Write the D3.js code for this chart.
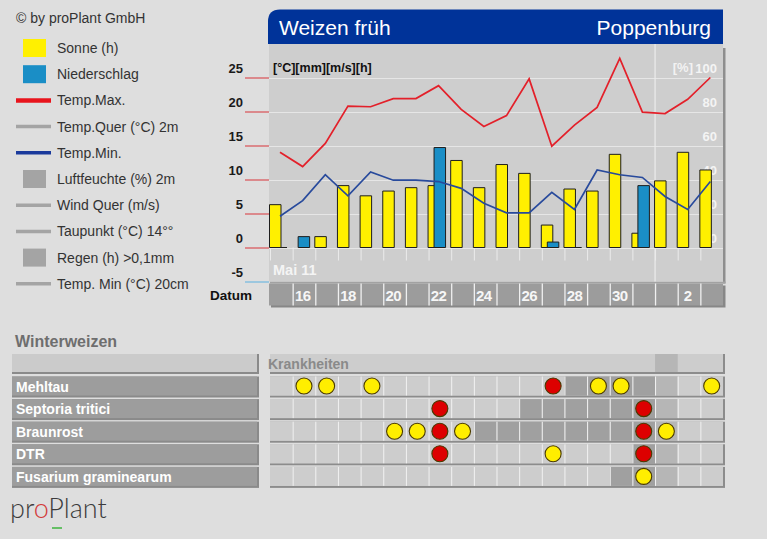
<!DOCTYPE html>
<html><head><meta charset="utf-8">
<script src="https://cdn.jsdelivr.net/npm/d3@7"></script>
<style>
html,body{margin:0;padding:0;background:#dedede;}
svg{display:block;font-family:"Liberation Sans",Arial,sans-serif;}
</style></head><body>
<svg id="c" width="767" height="539"></svg>
<script>
// ---------- data ----------
const days = [15,16,17,18,19,20,21,22,23,24,25,26,27,28,29,30,31,1,2,3];
const monthLabel = "Mai 11";
const sunHours  = [6.3,null,1.6,9.1,7.6,8.3,8.8,9.1,12.8,8.8,12.2,10.9,3.3,8.6,8.3,13.7,2.1,9.8,14.0,11.4];
const precipMm  = [0,1.6,null,null,null,null,null,14.7,null,null,null,null,0.8,0,null,null,9.1,null,null,null];
const tempMax   = [14.0,11.9,15.3,20.8,20.7,21.9,21.9,23.8,20.3,17.8,19.4,24.8,14.9,18.0,20.6,27.8,19.9,19.7,21.8,25.0];
const tempMin   = [4.6,6.9,10.7,7.6,11.1,9.9,9.9,9.7,8.7,6.5,5.1,5.1,8.1,5.6,11.4,10.7,10.3,7.5,5.6,9.7];
const yTicks    = [-5,0,5,10,15,20,25];
const pctTicks  = [0,20,40,60,80,100];
const todayIndex = 17;

const legendLabels = ["Sonne (h)","Niederschlag","Temp.Max.","Temp.Quer (°C) 2m","Temp.Min.","Luftfeuchte (%) 2m","Wind Quer (m/s)","Taupunkt (°C) 14°°","Regen (h) >0,1mm","Temp. Min (°C) 20cm"];
const legendKinds  = ["box","box","line","line","line","box","line","line","box","line"];
const legendColors = ["#fff000","#1a8ec6","#e8141c","#a4a4a4","#1a3a9c","#a4a4a4","#a4a4a4","#a4a4a4","#a4a4a4","#a4a4a4"];

const cropName = "Winterweizen";
const gridHeader = "Krankheiten";
const diseases = ["Mehltau","Septoria tritici","Braunrost","DTR","Fusarium graminearum"];
// 0 = normal cell, 1 = risk (dark) cell
const riskShade = [
  [0,0,0,0,0,0,0,0,0,0,0,0,0,1,1,1,1,0,0,0],
  [0,0,0,0,0,0,0,0,0,0,0,1,1,1,1,1,1,0,0,0],
  [0,0,0,0,0,0,0,0,0,1,1,1,1,1,1,1,1,0,0,0],
  [0,0,0,0,0,0,0,0,0,0,0,0,0,0,0,0,1,0,0,0],
  [0,0,0,0,0,0,0,0,0,0,0,0,0,0,0,1,1,0,0,0]
];
// 0 = none, 1 = yellow, 2 = red
const alertLevel = [
  [0,1,1,0,1,0,0,0,0,0,0,0,2,0,1,1,0,0,0,1],
  [0,0,0,0,0,0,0,2,0,0,0,0,0,0,0,0,2,0,0,0],
  [0,0,0,0,0,1,1,2,1,0,0,0,0,0,0,0,2,1,0,0],
  [0,0,0,0,0,0,0,2,0,0,0,0,1,0,0,0,2,0,0,0],
  [0,0,0,0,0,0,0,0,0,0,0,0,0,0,0,0,1,0,0,0]
];

// ---------- drawing ----------
const svg = d3.select("#c");
const FONT = '"Liberation Sans",Arial,sans-serif';

const x = d3.scaleBand().domain(d3.range(days.length)).range([270, 723]);
const bw = x.bandwidth();
const y = d3.scaleLinear().domain([-5, 30]).range([281.5, 43.5]);
const yPct = d3.scaleLinear().domain([0, 100]).range([y(0), y(25)]);

// copyright
svg.append("text").attr("x", 16).attr("y", 23).attr("font-size", 14).attr("fill", "#333")
  .text("© by proPlant GmbH");

// legend
const lg = svg.append("g");
legendLabels.forEach((lab, i) => {
  const cy = 48 + 26.2 * i;
  if (legendKinds[i] === "box") {
    lg.append("rect").attr("x", 23).attr("y", cy - 9).attr("width", 23).attr("height", 18).attr("fill", legendColors[i]);
  } else {
    lg.append("line").attr("x1", 16).attr("x2", 51).attr("y1", cy).attr("y2", cy)
      .attr("stroke", legendColors[i]).attr("stroke-width", i === 2 ? 4.5 : 3.5);
  }
  lg.append("text").attr("x", 57).attr("y", cy + 5).attr("font-size", 14).attr("fill", "#333").text(lab);
});

// title bar
svg.append("path").attr("d", "M268,44 V21.5 Q268,9.5 280,9.5 H723 V44 Z").attr("fill", "#003399");
svg.append("text").attr("x", 279).attr("y", 35).attr("font-size", 21).attr("fill", "#fff").text("Weizen früh");
svg.append("text").attr("x", 711).attr("y", 35).attr("font-size", 21).attr("fill", "#fff").attr("text-anchor", "end").text("Poppenburg");

// chart panel
svg.append("rect").attr("x", 723).attr("y", 48).attr("width", 2.5).attr("height", 235.5).attr("fill", "#8e8e8e");
svg.append("rect").attr("x", 270).attr("y", 281.5).attr("width", 455.5).attr("height", 2).attr("fill", "#a2a2a2");
svg.append("rect").attr("x", 269).attr("y", 44).attr("width", 454).attr("height", 237.5).attr("fill", "#cecece");

// horizontal gridlines
svg.append("g").selectAll("line").data(yTicks.filter(t => t >= 0)).join("line")
  .attr("x1", 269).attr("x2", 723).attr("y1", d => Math.round(y(d)) + 0.5).attr("y2", d => Math.round(y(d)) + 0.5)
  .attr("stroke", "#e6e6e6").attr("stroke-width", 1);

// today separator
svg.append("line").attr("x1", x(todayIndex)).attr("x2", x(todayIndex)).attr("y1", 44).attr("y2", 281.5)
  .attr("stroke", "#ececec").attr("stroke-width", 1.2);

// small ticks below zero
svg.append("g").selectAll("line").data(d3.range(days.length)).join("line")
  .attr("x1", i => x(i) + 0.5).attr("x2", i => x(i) + 0.5).attr("y1", y(0)).attr("y2", y(0) + 13)
  .attr("stroke", "#ebebeb").attr("stroke-width", 1);

// left axis
const ax = svg.append("g").attr("transform", "translate(269,0)")
  .call(d3.axisLeft(y).tickValues(yTicks).tickFormat(d => String(d)).tickSize(24).tickPadding(2));
ax.select(".domain").remove();
ax.selectAll(".tick line").attr("stroke", d => d < 0 ? "#5ab0e0" : "#d8353a").attr("stroke-width", 1);
ax.selectAll(".tick text").attr("font-family", FONT).attr("font-size", 13).attr("font-weight", "bold")
  .attr("fill", "#1a1a1a").attr("dy", null).attr("y", -5.5);

// right axis (percent)
const ar = svg.append("g").attr("transform", "translate(719,0)")
  .call(d3.axisLeft(yPct).tickValues(pctTicks).tickFormat(d => String(d)).tickSize(0).tickPadding(2));
ar.select(".domain").remove();
ar.selectAll(".tick text").attr("font-family", FONT).attr("font-size", 13).attr("font-weight", "bold")
  .attr("fill", "#f4f4f4").attr("dy", null).attr("y", -5.5);
svg.append("text").attr("x", 693).attr("y", yPct(100) - 5.5).attr("text-anchor", "end")
  .attr("font-size", 13).attr("font-weight", "bold").attr("fill", "#fff").attr("fill-opacity", 0.75).text("[%]");

// unit label
svg.append("text").attr("x", 273).attr("y", y(25) - 5.5).attr("font-size", 12.5).attr("font-weight", "bold")
  .attr("fill", "#111").text("[°C][mm][m/s][h]");

// bars
const barPath = (x0, w, v) => `M${x0},${y(0)}V${y(v)}H${x0 + w}V${y(0)}Z`;
svg.append("g").selectAll("path").data(sunHours.map((v, i) => ({v, i})).filter(d => d.v !== null)).join("path")
  .attr("d", d => barPath(x(d.i) - 0.5, 11.5, d.v))
  .attr("fill", "#fff000").attr("stroke", "#1e1e1e").attr("stroke-width", 1);
svg.append("g").selectAll("path").data(precipMm.map((v, i) => ({v, i})).filter(d => d.v !== null)).join("path")
  .attr("d", d => barPath(x(d.i) + 5.5, 11.5, d.v))
  .attr("fill", "#1a8ec6").attr("stroke", "#1e1e1e").attr("stroke-width", 1);

// lines
const line = d3.line().x((d, i) => x(i) + 10).y(d => y(d));
svg.append("path").attr("d", line(tempMax)).attr("fill", "none").attr("stroke", "#e3202a").attr("stroke-width", 1.7);
svg.append("path").attr("d", line(tempMin)).attr("fill", "none").attr("stroke", "#284a9c").attr("stroke-width", 1.7);

// month label
svg.append("text").attr("x", 273).attr("y", 275).attr("font-size", 14.5).attr("font-weight", "bold")
  .attr("fill", "#f4f4f4").text(monthLabel);

// date row
svg.append("text").attr("x", 210).attr("y", 300).attr("font-size", 13.5).attr("font-weight", "bold").attr("fill", "#111").text("Datum");
svg.append("rect").attr("x", 271).attr("y", 285.5).attr("width", 454.5).attr("height", 22).attr("fill", "#878787");
svg.append("rect").attr("x", 269).attr("y", 283.5).attr("width", 454).attr("height", 22).attr("fill", "#9c9c9c");
svg.append("g").selectAll("line").data(d3.range(1, days.length)).join("line")
  .attr("x1", i => x(i) + 0.5).attr("x2", i => x(i) + 0.5).attr("y1", 283.5).attr("y2", 305.5)
  .attr("stroke", "#f0f0f0").attr("stroke-width", 1.3);
svg.append("g").selectAll("text").data(d3.range(days.length).filter(i => days[i] % 2 === 0)).join("text")
  .attr("x", i => x(i) + 10).attr("y", 300.5).attr("text-anchor", "middle")
  .attr("font-size", 15).attr("font-weight", "bold").attr("letter-spacing", -0.6).attr("fill", "#f6f6f6")
  .text(i => days[i]);

// ---------- disease grid ----------
svg.append("text").attr("x", 15).attr("y", 346.5).attr("font-size", 16).attr("font-weight", "bold")
  .attr("fill", "#6e6e6e").text(cropName);

function rowFrame(top, h, leftFill, rightFill) {
  svg.append("rect").attr("x", 12).attr("y", top).attr("width", 247).attr("height", h + 2).attr("fill", "#8a8a8a");
  svg.append("rect").attr("x", 12).attr("y", top).attr("width", 245).attr("height", h).attr("fill", leftFill);
  svg.append("rect").attr("x", 270).attr("y", top).attr("width", 455).attr("height", h + 2).attr("fill", "#8c8c8c");
  svg.append("rect").attr("x", 270).attr("y", top).attr("width", 453).attr("height", h).attr("fill", rightFill);
}

const headTop = 354, headH = 18;
rowFrame(headTop, headH, "#cbcbcb", "#cdcdcd");
svg.append("rect").attr("x", x(todayIndex)).attr("y", headTop).attr("width", bw).attr("height", headH).attr("fill", "#b6b6b6");
svg.append("text").attr("x", 268).attr("y", 368.5).attr("font-size", 14).attr("font-weight", "bold")
  .attr("fill", "#8a8a8a").text(gridHeader);

const rowTop = i => 376.5 + 22.6 * i;
const rowH = 19;
diseases.forEach((name, r) => {
  const top = rowTop(r);
  rowFrame(top, rowH, "#9d9d9d", "#cdcdcd");
  svg.append("text").attr("x", 16).attr("y", top + 15).attr("font-size", 14).attr("font-weight", "bold")
    .attr("fill", "#fff").text(name);
  const g = svg.append("g");
  g.selectAll("rect").data(d3.range(days.length)).join("rect")
    .attr("x", i => x(i)).attr("y", top).attr("width", bw).attr("height", rowH)
    .attr("fill", i => riskShade[r][i] ? "#a0a0a0" : (i === todayIndex ? "#b6b6b6" : "#cdcdcd"));
  g.selectAll("line").data(d3.range(1, days.length)).join("line")
    .attr("x1", i => x(i) + 0.5).attr("x2", i => x(i) + 0.5).attr("y1", top).attr("y2", top + rowH)
    .attr("stroke", "#f2f2f2").attr("stroke-width", 1);
  g.selectAll("circle").data(d3.range(days.length).filter(i => alertLevel[r][i] > 0)).join("circle")
    .attr("cx", i => x(i) + bw / 2).attr("cy", top + rowH / 2).attr("r", 8)
    .attr("fill", i => alertLevel[r][i] === 2 ? "#dd0000" : "#ffee00")
    .attr("stroke", "#4a3a00").attr("stroke-width", 1.1);
});

// logo
const logo = svg.append("text").attr("x", 10).attr("y", 518).attr("font-family", "Lato, 'Open Sans', sans-serif")
  .attr("font-size", 27).attr("font-weight", 300).attr("fill", "#3c3c3c");
logo.append("tspan").text("pr");
logo.append("tspan").attr("fill", "#d23a3a").text("o");
logo.append("tspan").text("Plant");
svg.append("line").attr("x1", 52).attr("x2", 62).attr("y1", 528).attr("y2", 528).attr("stroke", "#3cb43c").attr("stroke-width", 1.5);
</script>
</body></html>
